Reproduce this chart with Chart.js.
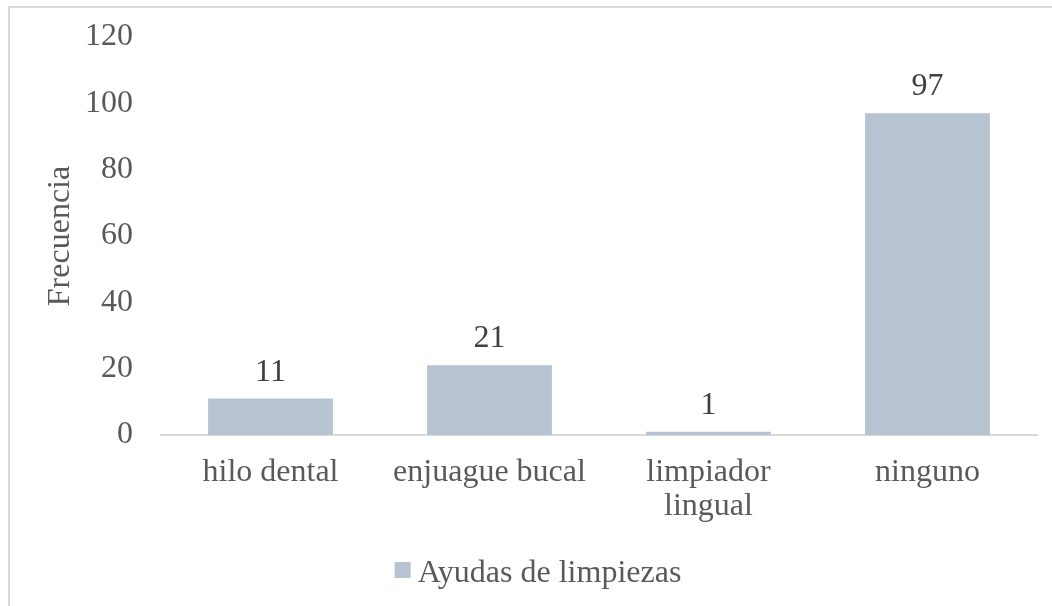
<!DOCTYPE html>
<html lang="es">
<head>
    <meta charset="UTF-8">
    <title>Ayudas de limpiezas</title>
    <script src="https://cdn.jsdelivr.net/npm/chart.js"></script>
    <style>
        body { margin: 0; background: #fff; overflow: hidden; }
        .frame {
            position: absolute; left: 8px; top: 6px;
            width: 1100px; height: 700px;
            border: 2px solid #d9d9d9;
        }
        .chart-container { position: absolute; left: 0; top: 0; width: 1052px; height: 606px; }
    </style>
</head>
<body>
    <div class="frame"></div>
    <div class="chart-container">
        <canvas id="chart" width="1052" height="606"></canvas>
    </div>

    <script>
        const categories = [['hilo dental'], ['enjuague bucal'], ['limpiador', 'lingual'], ['ninguno']];
        const values = [11, 21, 1, 97];
        const seriesName = 'Ayudas de limpiezas';
        const yTicks = [0, 20, 40, 60, 80, 100, 120];

        const textColor = '#595959';
        const barColor = '#b7c3d1';
        const fontFamily = '"Liberation Serif", "Times New Roman", serif';
        const fontSize = 32;

        // value labels drawn above each bar
        const valueLabels = {
            id: 'valueLabels',
            afterDatasetsDraw(chart) {
                const ctx = chart.ctx;
                const meta = chart.getDatasetMeta(0);
                ctx.save();
                ctx.font = fontSize + 'px ' + fontFamily;
                ctx.fillStyle = '#404040';
                ctx.textAlign = 'center';
                ctx.textBaseline = 'alphabetic';
                meta.data.forEach((bar, i) => {
                    ctx.fillText(String(values[i]), bar.x, bar.y - 18);
                });
                ctx.restore();
            }
        };

        // simple legend under the axis, square swatch close to the text
        const bottomLegend = {
            id: 'bottomLegend',
            afterDraw(chart) {
                const ctx = chart.ctx;
                const ds = chart.data.datasets[0];
                ctx.save();
                ctx.font = fontSize + 'px ' + fontFamily;
                const textW = ctx.measureText(ds.label).width;
                const total = 23 + textW;
                const x0 = 538 - total / 2;
                const baseY = chart.chartArea.bottom + 147;
                ctx.fillStyle = ds.backgroundColor;
                ctx.fillRect(x0, baseY - 20, 16, 16);
                ctx.fillStyle = textColor;
                ctx.textBaseline = 'alphabetic';
                ctx.fillText(ds.label, x0 + 23, baseY);
                ctx.restore();
            }
        };

        const chart = new Chart('chart', {
            type: 'bar',
            data: {
                labels: categories,
                datasets: [{
                    label: seriesName,
                    data: values,
                    backgroundColor: barColor,
                    categoryPercentage: 1,
                    barPercentage: 0.57
                }]
            },
            options: {
                responsive: false,
                animation: false,
                layout: { padding: { top: 37, right: 15, bottom: 61.5, left: 0 } },
                plugins: {
                    legend: { display: false },
                    tooltip: { enabled: false }
                },
                scales: {
                    x: {
                        grid: { display: false, drawTicks: false },
                        border: { display: true, color: '#d9d9d9', width: 2 },
                        ticks: {
                            color: textColor,
                            padding: 20,
                            maxRotation: 0,
                            font: { family: fontFamily, size: fontSize, lineHeight: 1.07 }
                        },
                        afterFit(scale) { scale.height = 109.5; }
                    },
                    y: {
                        min: 0,
                        max: 120,
                        grid: { display: false, drawTicks: false },
                        border: { display: false },
                        afterBuildTicks(scale) { scale.ticks = yTicks.map(v => ({ value: v })); },
                        ticks: {
                            color: textColor,
                            padding: 28,
                            font: { family: fontFamily, size: fontSize }
                        },
                        title: {
                            display: true,
                            text: 'Frecuencia',
                            color: textColor,
                            padding: { top: 41, bottom: 0 },
                            font: { family: fontFamily, size: fontSize }
                        },
                        afterFit(scale) {
                            scale.width = 161;
                            // keep the tick padding from pushing the plot top down
                            scale.paddingTop = 19;
                            scale.paddingBottom = 19;
                        }
                    }
                }
            },
            plugins: [valueLabels, bottomLegend]
        });
    </script>
</body>
</html>
